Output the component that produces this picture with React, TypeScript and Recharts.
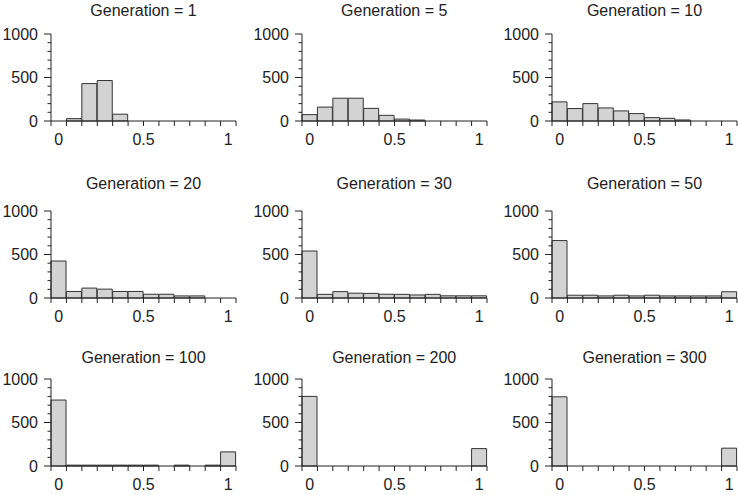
import { BarChart, Bar, XAxis, YAxis } from 'recharts';

// ─── Data ─────────────────────────────────────────────────────────────────────

// 12 bins centred on k/11 (0 … 1)
const BIN_LABELS = ['0', '0.09', '0.18', '0.27', '0.36', '0.45', '0.55', '0.64', '0.73', '0.82', '0.91', '1'];
// axis labels: value shown, bin it sits on, and where in that bin (0 = centre, 0.5 = right edge)
const X_LABELS = [
    { text: '0', bin: '0', at: 0 },
    { text: '0.5', bin: '0.45', at: 0.5 },
    { text: '1', bin: '1', at: 0 },
];
const Y_TICKS = [0, 100, 200, 300, 400, 500, 600, 700, 800, 900, 1000];
const Y_LABELS = [0, 500, 1000];

const GEN_1 = [0, 27, 430, 465, 78, 0, 0, 0, 0, 0, 0, 0];
const GEN_5 = [73, 160, 262, 262, 145, 65, 22, 11, 0, 0, 0, 0];
const GEN_10 = [220, 143, 200, 150, 116, 85, 39, 31, 12, 0, 0, 0];
const GEN_20 = [425, 75, 114, 102, 75, 75, 43, 43, 24, 24, 0, 0];
const GEN_30 = [540, 42, 73, 55, 53, 43, 42, 35, 42, 25, 25, 25];
const GEN_50 = [660, 32, 32, 24, 32, 24, 32, 24, 24, 24, 24, 72];
const GEN_100 = [758, 10, 10, 10, 10, 10, 10, 0, 10, 0, 10, 162];
const GEN_200 = [800, 0, 0, 0, 0, 0, 0, 0, 0, 0, 0, 200];
const GEN_300 = [795, 0, 0, 0, 0, 0, 0, 0, 0, 0, 0, 205];

const PANELS: { gen: number; counts: number[] }[] = [
    { gen: 1, counts: GEN_1 },
    { gen: 5, counts: GEN_5 },
    { gen: 10, counts: GEN_10 },
    { gen: 20, counts: GEN_20 },
    { gen: 30, counts: GEN_30 },
    { gen: 50, counts: GEN_50 },
    { gen: 100, counts: GEN_100 },
    { gen: 200, counts: GEN_200 },
    { gen: 300, counts: GEN_300 },
];

// ─── Layout ───────────────────────────────────────────────────────────────────

const FONT = '"Liberation Sans", Arial, Helvetica, sans-serif';
const INK = '#222';
const PLOT_LEFT = [51, 301.7, 552];
const PLOT_TOP = [34, 210.7, 379];
const TITLE_Y = [11, 184, 358];
const PLOT_W = 185;
const PLOT_H = 87;
const AXIS_W = 50;
const BAND = PLOT_W / BIN_LABELS.length;

// Category tick: draws the bin's left edge (and right edge for the last bin) plus any label.
function XTick({ x, y, payload, index }: any) {
    const last = index === BIN_LABELS.length - 1;
    const labels = X_LABELS.filter((l) => l.bin === payload?.value);
    return (
        <g>
            <line x1={x - BAND / 2} x2={x - BAND / 2} y1={y} y2={y + 5} stroke={INK} strokeWidth={1} />
            {last && <line x1={x + BAND / 2} x2={x + BAND / 2} y1={y} y2={y + 5} stroke={INK} strokeWidth={1} />}
            {labels.map((l) => (
                <text
                    key={l.text}
                    x={x + l.at * BAND}
                    y={y + 24}
                    textAnchor="middle"
                    fontSize={16}
                    fontFamily={FONT}
                    fill={INK}
                >
                    {l.text}
                </text>
            ))}
        </g>
    );
}

function YTick({ x, y, payload }: any) {
    const v = Number(payload?.value);
    const major = Y_LABELS.includes(v);
    return (
        <g>
            <line x1={x - (major ? 7 : 3.5)} x2={x} y1={y} y2={y} stroke={INK} strokeWidth={1} />
            {major && (
                <text x={x - 13} y={y} dy="0.36em" textAnchor="end" fontSize={16} fontFamily={FONT} fill={INK}>
                    {v}
                </text>
            )}
        </g>
    );
}

function Panel({ gen, counts, row, col }: { gen: number; counts: number[]; row: number; col: number }) {
    const data = BIN_LABELS.map((bin, i) => ({ bin, count: counts[i] }));
    const left = PLOT_LEFT[col] - AXIS_W;
    const top = PLOT_TOP[row] - 34;
    return (
        <>
            <div
                style={{
                    position: 'absolute',
                    left: PLOT_LEFT[col] - 20,
                    width: PLOT_W + 40,
                    top: TITLE_Y[row] - 8,
                    height: 16,
                    lineHeight: '16px',
                    fontSize: 16,
                    fontFamily: FONT,
                    color: INK,
                    textAlign: 'center',
                    whiteSpace: 'nowrap',
                }}
            >
                Generation = {gen}
            </div>
            <div style={{ position: 'absolute', left, top }}>
                <BarChart
                    width={AXIS_W + PLOT_W + 15}
                    height={34 + PLOT_H + 30}
                    data={data}
                    margin={{ top: 34, right: 15, bottom: 0, left: 0 }}
                    barCategoryGap={0}
                >
                    <XAxis
                        dataKey="bin"
                        interval={0}
                        tickLine={false}
                        tickSize={0}
                        tickMargin={0}
                        tick={<XTick />}
                        axisLine={{ stroke: INK, strokeWidth: 1 }}
                        height={30}
                    />
                    <YAxis
                        domain={[0, 1000]}
                        ticks={Y_TICKS}
                        interval={0}
                        tickLine={false}
                        tickSize={0}
                        tickMargin={0}
                        tick={<YTick />}
                        axisLine={{ stroke: INK, strokeWidth: 1 }}
                        width={AXIS_W}
                    />
                    <Bar dataKey="count" fill="#d3d3d3" stroke="#333" strokeWidth={1} isAnimationActive={false} />
                </BarChart>
            </div>
        </>
    );
}

export default function App() {
    return (
        <div
            style={{
                position: 'absolute',
                left: 0,
                top: 0,
                width: 738,
                height: 495,
                overflow: 'hidden',
                background: '#fff',
            }}
        >
            {PANELS.map((p, i) => (
                <Panel key={p.gen} gen={p.gen} counts={p.counts} row={Math.floor(i / 3)} col={i % 3} />
            ))}
        </div>
    );
}
